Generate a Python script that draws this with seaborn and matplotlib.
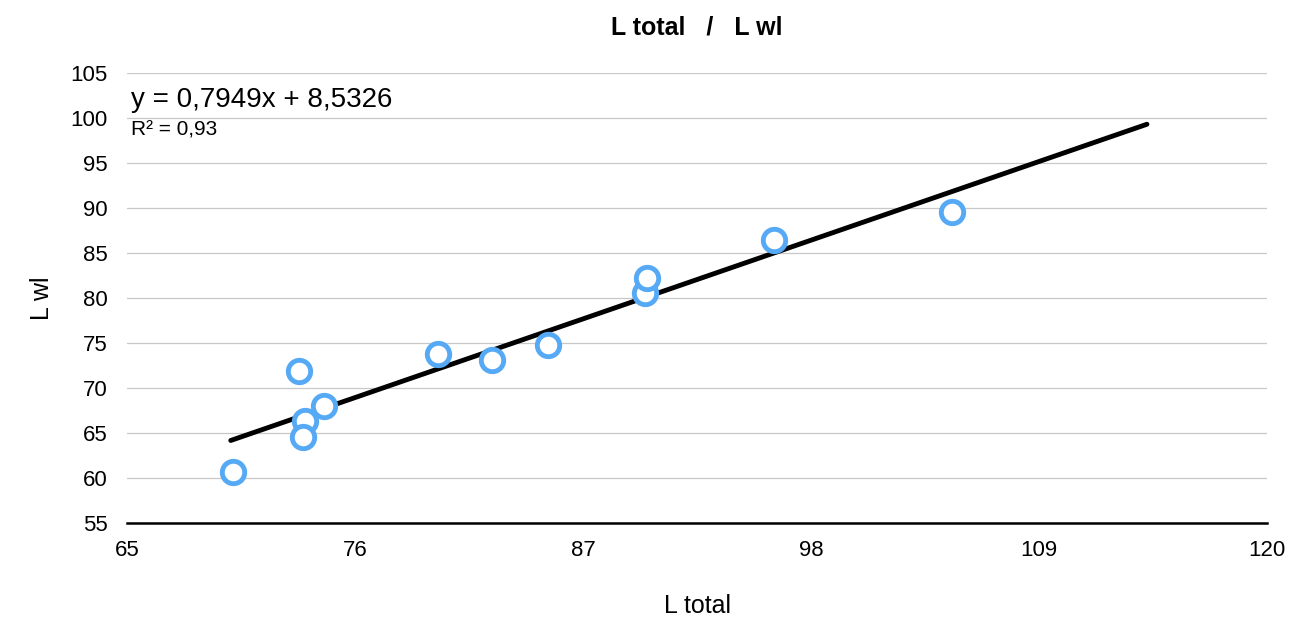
import numpy as np
import matplotlib
matplotlib.use("Agg")
import matplotlib.pyplot as plt
import seaborn as sns

L_total = [70.1, 73.3, 73.6, 73.5, 74.5, 80.0, 82.6, 85.3, 90.0, 90.1, 96.2, 104.8]
L_wl = [60.7, 71.9, 66.3, 64.6, 68.0, 73.8, 73.1, 74.8, 80.6, 82.2, 86.4, 89.6]
slope, intercept = 0.7949, 8.5326
trend_x = [70.0, 114.2]

sns.set_style("white")
plt.rcParams["font.family"] = ["Liberation Sans", "DejaVu Sans"]
plt.rcParams["text.color"] = "black"
plt.rcParams["xtick.color"] = "black"
plt.rcParams["ytick.color"] = "black"
plt.rcParams["axes.labelcolor"] = "black"

fig, ax = plt.subplots(figsize=(12.97, 6.19), dpi=100)
ax.yaxis.grid(True, color="#c8c8c8", linewidth=0.9)
ax.set_axisbelow(True)

tx = np.array(trend_x)
ax.plot(tx, slope * tx + intercept, color="black", linewidth=3.5, zorder=2)
sns.scatterplot(x=L_total, y=L_wl, ax=ax, s=260, facecolor="white",
                edgecolor="#55a9f5", linewidth=3.5, zorder=3)

ax.set_xlim(65, 120)
ax.set_ylim(55, 105)
ax.set_xticks([65, 76, 87, 98, 109, 120])
ax.set_yticks(range(55, 106, 5))
ax.tick_params(labelsize=16, length=0)
ax.tick_params(axis="x", pad=12)
ax.tick_params(axis="y", pad=14)
for s in ["top", "right", "left"]:
    ax.spines[s].set_visible(False)
ax.spines["bottom"].set_linewidth(1.8)
ax.spines["bottom"].set_color("black")
ax.set_xlabel("L total", fontsize=18, labelpad=24)
ax.set_ylabel("L wl", fontsize=18, labelpad=12)
ax.set_title("L total   /   L wl", fontsize=18, fontweight="bold", pad=28)
ax.text(65.2, 102.0, "y = 0,7949x + 8,5326", fontsize=20, va="center")
ax.text(65.2, 98.7, "R² = 0,93", fontsize=15, va="center")

plt.subplots_adjust(left=0.098, right=0.977, top=0.882, bottom=0.155)
plt.savefig("out.png", dpi=100)
